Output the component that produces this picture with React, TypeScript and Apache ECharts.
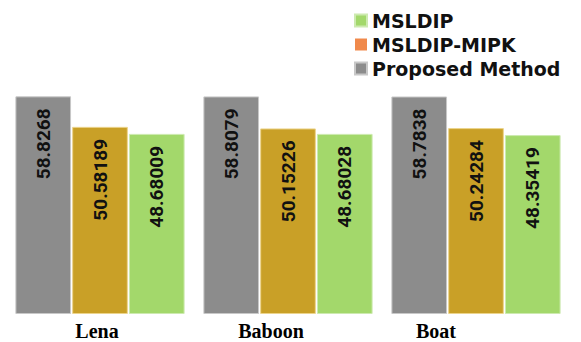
import React, { useEffect, useRef } from "react";
import * as echarts from "echarts";

const categories = ["Lena", "Baboon", "Boat"];
const proposedValues = [58.8268, 58.8079, 58.7838];
const mipkValues = [50.58189, 50.15226, 50.24284];
const msldipValues = [48.68009, 48.68028, 48.35419];
const legendOrder = ["MSLDIP", "MSLDIP-MIPK", "Proposed Method"];
const labelShiftPad = [6, 34, 80];

export default function App() {
  const ref = useRef<HTMLDivElement>(null);
  useEffect(() => {
    if (!ref.current) return;
    const chart = echarts.init(ref.current, null, { renderer: "svg" });
    const valueLabel = {
      show: true,
      position: "insideTop",
      rotate: 90,
      align: "right",
      verticalAlign: "middle",
      distance: 12,
      fontFamily: "Roboto, 'Liberation Sans', sans-serif",
      fontWeight: "bold",
      fontSize: 19,
      color: "#111",
      formatter: (p: any) => String(p.value),
    };
    const rich: any = {};
    categories.forEach((c, i) => {
      rich["c" + i] = {
        fontFamily: "'Liberation Serif', 'Times New Roman', serif",
        fontWeight: "bold",
        fontSize: 20,
        lineHeight: 20,
        color: "#000",
        padding: [0, labelShiftPad[i], 0, 0],
      };
    });
    chart.setOption({
      animation: false,
      backgroundColor: "#fff",
      grid: { left: 6, right: 11, top: 92, bottom: 28 },
      legend: {
        data: legendOrder,
        orient: "vertical",
        left: 349,
        top: 6,
        icon: "rect",
        itemWidth: 12,
        itemHeight: 12,
        itemGap: 5,
        textStyle: {
          fontFamily: "'DejaVu Sans', sans-serif",
          fontWeight: "bold",
          fontSize: 19,
          color: "#111",
        },
      },
      xAxis: {
        type: "category",
        data: categories,
        axisLine: { show: false },
        axisTick: { show: false },
        axisLabel: {
          margin: 7,
          formatter: (v: string) => "{c" + categories.indexOf(v) + "|" + v + "}",
          rich,
        },
      },
      yAxis: { type: "value", min: 0, max: 60, show: false, splitLine: { show: false } },
      series: [
        {
          name: "Proposed Method",
          type: "bar",
          barCategoryGap: "10%",
          barGap: "2%",
          itemStyle: { color: "#8c8c8c", borderColor: "#c8c8c8", borderWidth: 1 },
          label: valueLabel,
          data: proposedValues,
        },
        {
          name: "MSLDIP-MIPK",
          type: "bar",
          barCategoryGap: "10%",
          barGap: "2%",
          itemStyle: { color: "#f0894b" },
          label: valueLabel,
          data: mipkValues.map((v) => ({
            value: v,
            itemStyle: { color: "#c9a027", borderColor: "#ecd48c", borderWidth: 1 },
          })),
        },
        {
          name: "MSLDIP",
          type: "bar",
          barCategoryGap: "10%",
          barGap: "2%",
          itemStyle: { color: "#a3d86b", borderColor: "#cdeab0", borderWidth: 1 },
          label: valueLabel,
          data: msldipValues,
        },
      ],
    });
    return () => chart.dispose();
  }, []);
  return (
    <div
      ref={ref}
      style={{ position: "fixed", left: 0, top: 0, width: 581, height: 342 }}
    />
  );
}
